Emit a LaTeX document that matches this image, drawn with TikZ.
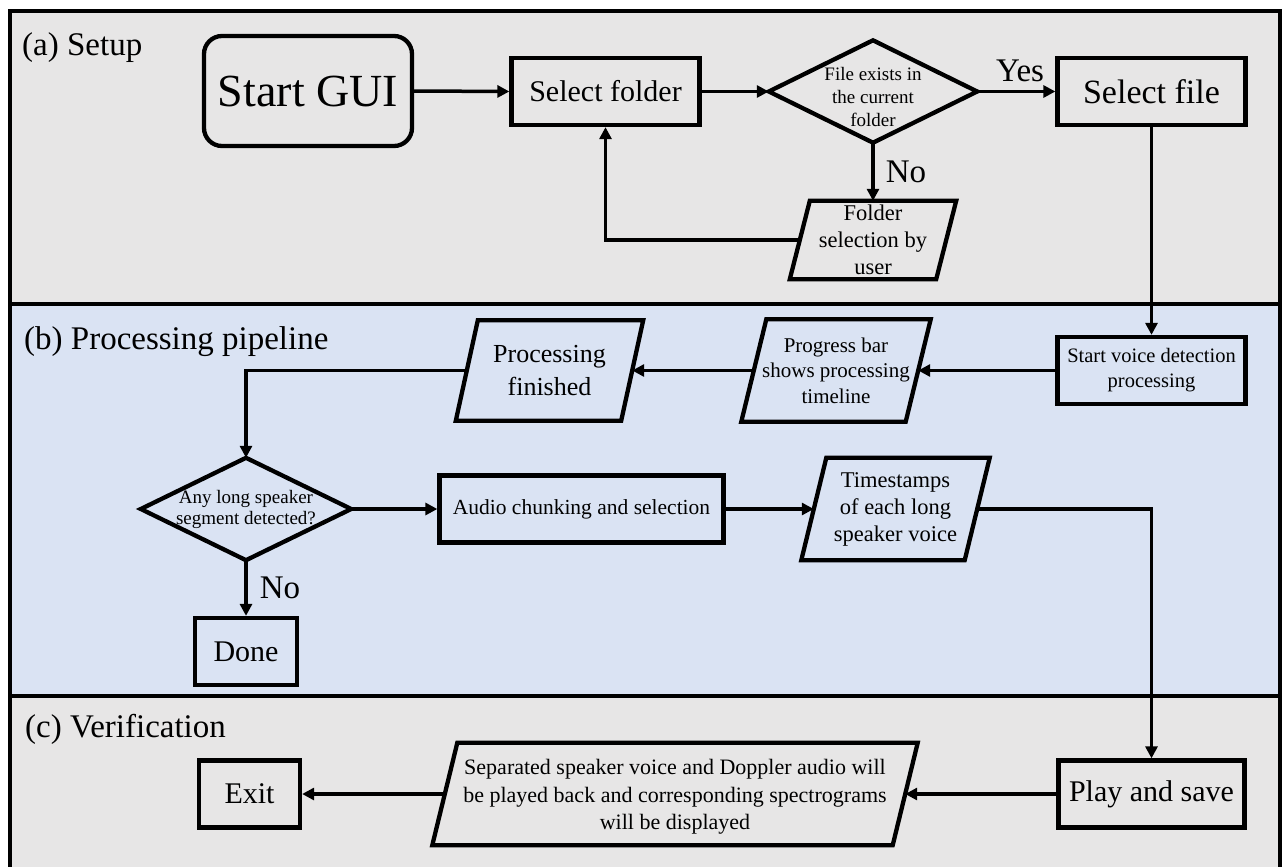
\documentclass[tikz,border=0pt]{standalone}
\usepackage{fontspec}
\setmainfont{Liberation Serif}
\usetikzlibrary{arrows.meta}
\definecolor{panelgray}{HTML}{E7E6E6}
\definecolor{panelblue}{HTML}{DAE3F3}
\newcommand\fs[2]{\fontsize{#1}{#2}\selectfont}
% parallelogram: name, position, width (at mid height), height, slant offset, font, text
\newcommand\parabox[7]{%
  \node[shp, minimum width=#3, minimum height=#4, font=#6] (#1) at (#2) {#7};
  \draw[outline] ([xshift=#5pt]#1.north west) -- ([xshift=#5pt]#1.north east)
    -- ([xshift=-#5pt]#1.south east) -- ([xshift=-#5pt]#1.south west) -- cycle;}
% diamond outline: name, position, width, height
\newcommand\diabox[4]{%
  \node[shp, minimum width=#3, minimum height=#4] (#1) at (#2) {};
  \draw[outline] (#1.north) -- (#1.east) -- (#1.south) -- (#1.west) -- cycle;}
\begin{document}
\begin{tikzpicture}[x=1pt,y=-1pt,
  box/.style={draw, line width=4.3pt, inner sep=0pt, align=center},
  shp/.style={inner sep=0pt, align=center},
  outline/.style={line width=4.3pt, line join=miter},
  conn/.style={line width=3.5pt, -{Triangle[length=12pt,width=12pt]}},
  frameline/.style={line width=4pt},
  lbl/.style={inner sep=0pt, anchor=base west, font=\fs{33}{38}},
  yn/.style={inner sep=0pt, font=\fs{33}{38}},
]
\useasboundingbox (0,0) rectangle (1285,867);
\clip (0,0) rectangle (1285,867);
% panels
\fill[panelgray] (9.5,11) rectangle (1279.5,304);
\fill[panelblue] (9.5,304) rectangle (1279.5,696);
\fill[panelgray] (9.5,696) rectangle (1279.5,875);
\draw[frameline] (9.5,875) -- (9.5,11) -- (1279.5,11) -- (1279.5,875);
\draw[frameline] (9.5,304) -- (1279.5,304);
\draw[frameline] (9.5,696) -- (1279.5,696);
% section labels
\node[lbl] (la) at (22,56) {(a) Setup};
\node[lbl] (lb) at (24,349) {(b) Processing pipeline};
\node[lbl] (lc) at (25,737) {(c) Verification};

% (a) Setup
\node[box, rounded corners=18pt, minimum width=208, minimum height=110, font=\fs{46}{50}] (start) at (308,91) {Start GUI};
\node[box, minimum width=188, minimum height=67, font=\fs{30}{34}] (selfolder) at (605.5,91.5) {Select folder};
\diabox{d1}{873,91.5}{208}{102}
\node[shp, font=\fs{19}{23}] (d1t) at ([yshift=-6pt]d1.center) {File exists in\\the current\\folder};
\node[box, minimum width=188, minimum height=67, font=\fs{34}{38}] (selfile) at (1151.5,91.5) {Select file};
\parabox{fsel}{873,240}{146}{78}{10}{\fs{22.5}{27}}{Folder\\selection by\\user}

% (b) Processing pipeline
\node[box, minimum width=188, minimum height=67, font=\fs{20.5}{25}] (sv) at (1151.5,370.5) {Start voice detection\\processing};
\parabox{prog}{836,370.5}{164}{102}{12.5}{\fs{21}{25.5}}{Progress bar\\shows processing\\timeline}
\parabox{pf}{549.5,370.5}{165}{100}{11}{\fs{26}{33}}{Processing\\finished}
\diabox{d2}{246,509}{210}{102}
\node[shp, font=\fs{19}{21}] (d2t) at (d2.center) {Any long speaker\\segment detected?};
\node[box, minimum width=284, minimum height=67, font=\fs{21.5}{25}] (audio) at (581.5,509) {Audio chunking and selection};
\parabox{ts}{895.5,509}{163}{102}{12.5}{\fs{22.5}{27}}{Timestamps\\of each long\\speaker voice}
\node[box, minimum width=102, minimum height=67, font=\fs{30}{34}] (done) at (246,651.5) {Done};

% (c) Verification
\node[box, minimum width=186, minimum height=67, font=\fs{30}{34}] (play) at (1151.5,794) {Play and save};
\node[shp, minimum width=460, minimum height=102] (big) at (675,794) {};
\draw[outline] ([xshift=12.5pt]big.north west) -- ([xshift=12.5pt]big.north east)
  -- ([xshift=-12.5pt]big.south east) -- ([xshift=-12.5pt]big.south west) -- cycle;
\node[shp, font=\fs{22}{27.5}] (bigt) at ([yshift=-3pt]big.center) {Separated speaker voice and Doppler audio will\\be played back and corresponding spectrograms\\will be displayed};
\node[box, minimum width=101, minimum height=67, font=\fs{30}{34}] (exit) at (249.5,794) {Exit};

% connectors
\draw[conn] (start.east) -- (selfolder.west);
\draw[conn] (selfolder.east) -- (d1.west);
\draw[conn] (d1.east) -- (selfile.west);
\node[yn] (yes) at (1020,71) {Yes};
\draw[conn] (d1.south) -- (fsel.north);
\node[yn] (no1) at (906,172) {No};
\draw[conn] (fsel.west) -| (selfolder.south);
\draw[conn] (selfile.south) -- (sv.north);
\draw[conn] (sv.west) -- (prog.east);
\draw[conn] (prog.west) -- (pf.east);
\draw[conn] (pf.west) -| (d2.north);
\draw[conn] (d2.east) -- (audio.west);
\draw[conn] (audio.east) -- (ts.west);
\draw[conn] (d2.south) -- (done.north);
\node[yn] (no2) at (280,588) {No};
\draw[conn] (ts.east) -| (play.north);
\draw[conn] (play.west) -- (big.east);
\draw[conn] (big.west) -- (exit.east);
\end{tikzpicture}
\end{document}
